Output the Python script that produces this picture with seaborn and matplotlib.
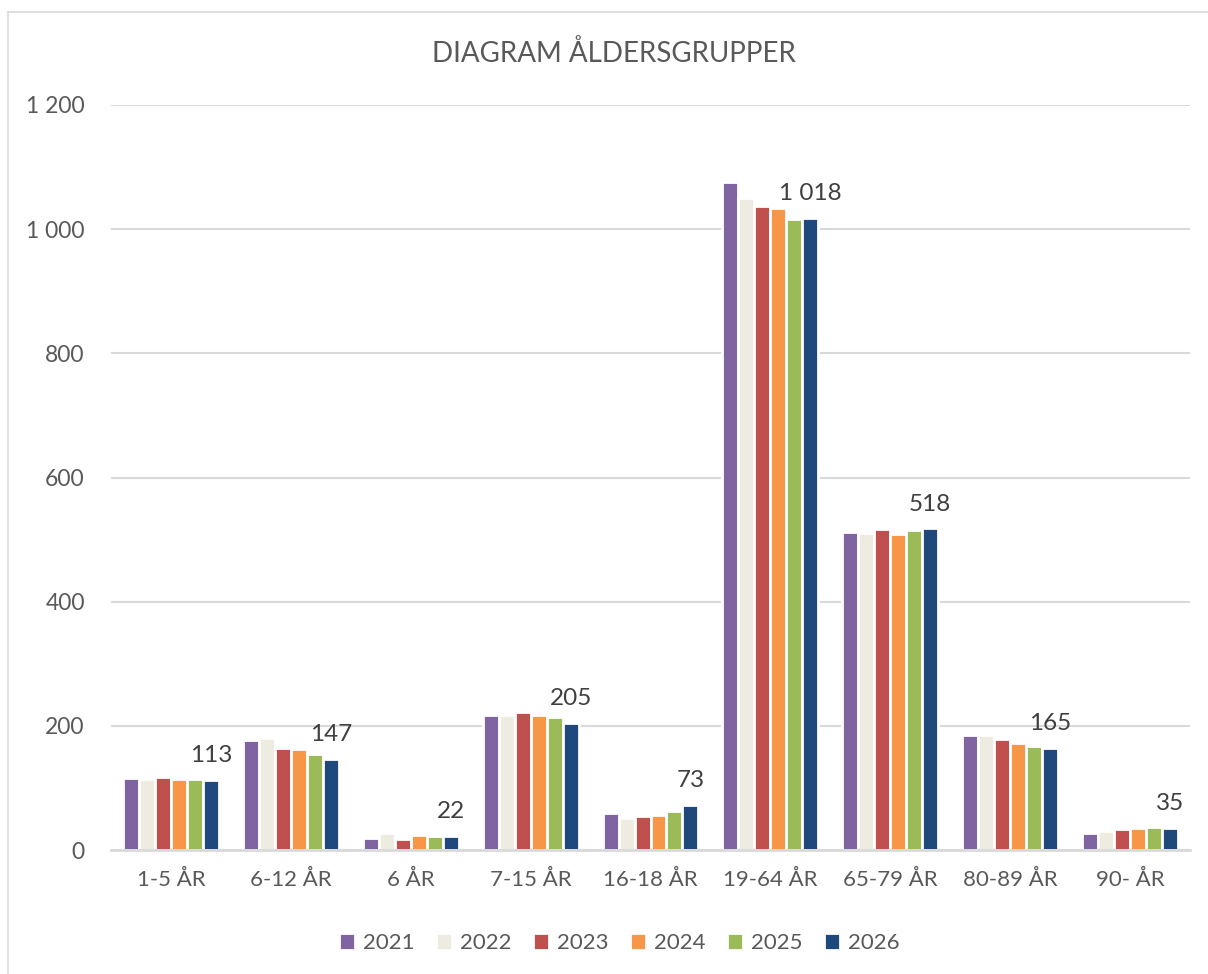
import matplotlib.pyplot as plt
import matplotlib.ticker as mticker
import pandas as pd
import seaborn as sns

# Data
groups = ['1-5 ÅR', '6-12 ÅR', '6 ÅR', '7-15 ÅR', '16-18 ÅR',
          '19-64 ÅR', '65-79 ÅR', '80-89 ÅR', '90- ÅR']
years = ['2021', '2022', '2023', '2024', '2025', '2026']
v2021 = [116, 177, 20, 217, 60, 1076, 513, 186, 28]
v2022 = [114, 180, 27, 218, 52, 1051, 510, 185, 30]
v2023 = [118, 165, 18, 223, 54, 1037, 517, 178, 34]
v2024 = [114, 162, 24, 217, 56, 1034, 509, 173, 35]
v2025 = [114, 154, 22, 214, 63, 1016, 515, 168, 37]
v2026 = [113, 147, 22, 205, 73, 1018, 518, 165, 35]
colors = ['#8064A2', '#EEECE1', '#C0504D', '#F79646', '#9BBB59', '#1F497D']

series = [v2021, v2022, v2023, v2024, v2025, v2026]
df = pd.DataFrame({
    'group': groups * len(years),
    'year': [y for y in years for _ in groups],
    'value': [v for s in series for v in s]})

sns.set_style('white')
plt.rcParams['font.family'] = ['Lato', 'DejaVu Sans']
text_color = '#595959'
grid_color = '#D9D9D9'

fig = plt.figure(figsize=(12.08, 9.74), dpi=100)
ax = fig.add_axes([0.092, 0.1273, 0.893, 0.7649])

sns.barplot(
    ax=ax,
    data=df,
    x='group',
    y='value',
    hue='year',
    palette=colors,
    width=0.8,
    edgecolor='white',
    linewidth=2.0,
    saturation=1)

ax.set_ylim(0, 1200)
ax.set_yticks(range(0, 1201, 200))
ax.yaxis.set_major_formatter(
    mticker.FuncFormatter(lambda v, p: f'{int(v):,}'.replace(',', ' ')))
ax.grid(axis='y', color=grid_color, linewidth=1.5)
ax.set_axisbelow(True)
for side in ['left', 'right', 'top']:
    ax.spines[side].set_visible(False)
ax.spines['bottom'].set_color(grid_color)
ax.spines['bottom'].set_linewidth(2)
ax.tick_params(axis='y', length=0, pad=19, labelsize=16.5, labelcolor=text_color)
ax.tick_params(axis='x', length=0, pad=14, labelsize=16, labelcolor=text_color)
ax.set_xlabel('')
ax.set_ylabel('')

# Labels only on the 2026 series
last = ax.containers[-1]
ax.bar_label(last, labels=[f'{v:,}'.replace(',', ' ') for v in v2026],
             padding=10, fontsize=17.5, color='#404040')

ax.legend(
    loc='upper center', bbox_to_anchor=(0.471, -0.085), ncol=6,
    frameon=False, fontsize=16, labelcolor=text_color,
    handlelength=0.75, handleheight=0.75, handletextpad=0.35,
    columnspacing=0.95)

fig.text(0.508, 0.945, 'DIAGRAM ÅLDERSGRUPPER', ha='center', va='center',
         fontsize=20, color=text_color)

# Chart border (left and top only visible in the crop)
fig.add_artist(plt.Line2D([8 / 1208, 8 / 1208], [0, 1 - 12 / 974],
                          color=grid_color, linewidth=1.2))
fig.add_artist(plt.Line2D([8 / 1208, 1], [1 - 12 / 974, 1 - 12 / 974],
                          color=grid_color, linewidth=1.2))

fig.savefig('out.png', dpi=100)
